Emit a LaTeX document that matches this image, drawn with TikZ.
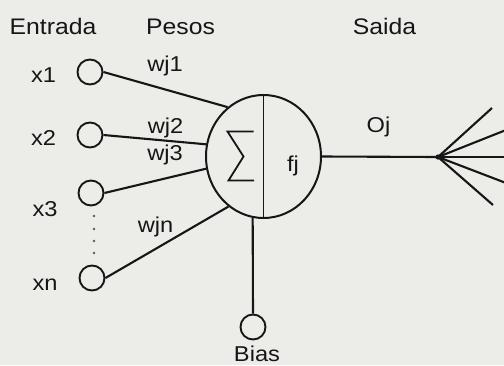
\documentclass[tikz,border=0pt]{standalone}
\usepackage{fontspec}
\setmainfont{Liberation Sans}[FakeStretch=1.1]
\usetikzlibrary{shapes.geometric}
\definecolor{paper}{RGB}{236,237,233}
\definecolor{ink}{RGB}{22,22,22}
\definecolor{dotgrey}{RGB}{90,90,90}
\begin{document}
\begin{tikzpicture}[x=1pt,y=-1pt,
  wire/.style={draw=ink,line width=2.1pt},
  inputnode/.style={circle,draw=ink,line width=1.9pt,minimum size=25pt,inner sep=0pt},
  lbl/.style={text=ink,anchor=base,inner sep=0pt,font=\fontsize{21.5}{22}\selectfont},
  title/.style={lbl,font=\fontsize{22.5}{23}\selectfont},
  dotmark/.style={circle,fill=dotgrey,minimum size=2.6pt,inner sep=0pt}]
  % page
  \fill[paper] (0,0) rectangle (504,365);
  \useasboundingbox (0,0) rectangle (504,365);

  % column titles
  \node[title] (tin)  at (53,34)  {Entrada};
  \node[title] (tw)   at (180.5,34) {Pesos};
  \node[title] (tout) at (384.5,34) {Saida};

  % neuron body
  \node[ellipse,draw=ink,line width=2pt,minimum width=115pt,minimum height=123pt,inner sep=0pt] (n) at (263.5,156.5) {};
  \draw[wire,line width=1.9pt] (n.north) -- (n.south);

  % summation sign
  \draw[draw=ink,line width=1.8pt,line join=miter]
    (253.5,131.5) -- (227.5,131.5) -- (243.5,156.5) -- (228.5,180.5) -- (254,180.5);
  \node[lbl] (fj) at (293,171) {fj};

  % inputs
  \node[inputnode] (x1) at (90,72)  {};
  \node[inputnode] (x2) at (90,135) {};
  \node[inputnode] (x3) at (91,193) {};
  \node[inputnode] (xn) at (92,278) {};
  \node[lbl] (lx1) at (43.5,82) {x1};
  \node[lbl] (lx2) at (43.5,145) {x2};
  \node[lbl] (lx3) at (45,216) {x3};
  \node[lbl] (lxn) at (45,290) {xn};

  % elided inputs
  \node[dotmark] (d1) at (94,216) {};
  \node[dotmark] (d2) at (94,229) {};
  \node[dotmark] (d3) at (94,241) {};
  \node[dotmark] (d4) at (94,253) {};

  % weighted connections
  \draw[wire] (x1.east) -- (n.126);
  \draw[wire] (x2.east) -- (n.168);
  \draw[wire] (x3.east) -- (n.192);
  \draw[wire] (xn.east) -- (n.235);
  \node[lbl] (w1) at (165,71)  {wj1};
  \node[lbl] (w2) at (165.5,133) {wj2};
  \node[lbl] (w3) at (165,160) {wj3};
  \node[lbl] (wn) at (155.5,232) {wjn};

  % bias
  \node[inputnode] (b) at (253,327) {};
  \draw[wire] (b.north) -- (n.260);
  \node[lbl] (lb) at (257,361) {Bias};

  % output and fan-out
  \coordinate (hub) at (438,157);
  \coordinate (f1) at (492,108);
  \coordinate (f2) at (506,130);
  \coordinate (f3) at (506,157);
  \coordinate (f4) at (506,183);
  \coordinate (f5) at (493,205);
  \draw[wire] (n.east) -- (hub);
  \node[lbl] (oj) at (378.5,132) {Oj};
  \foreach \f in {f1,f2,f3,f4,f5} \draw[wire] (hub) -- (\f);
  \fill[ink] (hub) circle (2.6pt);
\end{tikzpicture}
\end{document}
